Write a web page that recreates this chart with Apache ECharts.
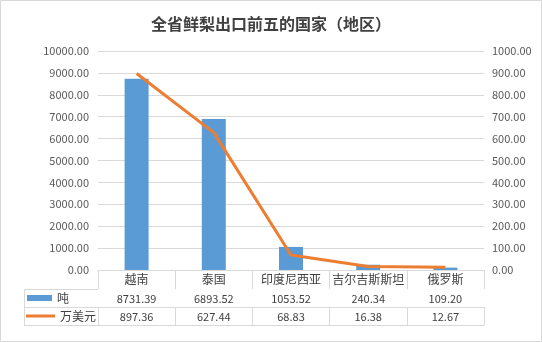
<!DOCTYPE html>
<html>
<head>
<meta charset="utf-8">
<script src="https://cdn.jsdelivr.net/npm/echarts@6/dist/echarts.min.js"></script>
<style>
html,body{margin:0;padding:0;background:#fff;}
#main{width:542px;height:342px;}
</style>
</head>
<body>
<div id="main"></div>
<script>
var categories = ['越南', '泰国', '印度尼西亚', '吉尔吉斯斯坦', '俄罗斯'];
var tons = [8731.39, 6893.52, 1053.52, 240.34, 109.20];
var usd = [897.36, 627.44, 68.83, 16.38, 12.67];
var titleText = '全省鲜梨出口前五的国家（地区）';
var seriesNames = ['吨', '万美元'];

var FONT = '"Noto Sans CJK SC", "Noto Sans", sans-serif';
var GRID = '#d9d9d9';
var TXT = '#595959';
var TXT2 = '#404040';

var chart = echarts.init(document.getElementById('main'));

function tableAxis(data, offset, showTick, tickLen, fontSize, margin) {
  return {
    type: 'category',
    gridIndex: 0,
    position: 'bottom',
    offset: offset,
    data: data,
    axisLine: { show: true, lineStyle: { color: GRID, width: 1 } },
    axisTick: { show: showTick, length: tickLen, interval: 0, lineStyle: { color: GRID } },
    axisLabel: { show: data.length > 0 && data[0] !== '', interval: 0, color: TXT2, fontSize: fontSize, fontFamily: FONT, margin: margin },
    splitLine: { show: false }
  };
}

var option = {
  backgroundColor: '#fff',
  animation: false,
  title: {
    text: titleText,
    left: 'center',
    top: 11,
    textStyle: { fontSize: 16, fontWeight: 'bold', color: TXT2, fontFamily: FONT }
  },
  legend: [
    {
      data: [{ name: seriesNames[0], icon: 'rect' }],
      left: 27, top: 292, padding: 0,
      itemWidth: 25, itemHeight: 6,
      textStyle: { fontSize: 12, color: TXT2, fontFamily: FONT }
    },
    {
      data: [{ name: seriesNames[1], icon: 'path://M0,0H29V3H0Z' }],
      left: 26, top: 310, padding: 0,
      itemWidth: 29, itemHeight: 3,
      textStyle: { fontSize: 12, color: TXT2, fontFamily: FONT }
    }
  ],
  grid: { left: 98, right: 58, top: 51, bottom: 72, containLabel: false },
  xAxis: [
    tableAxis(categories, 0, true, 19, 12, 3),
    tableAxis(tons.map(function (v) { return v.toFixed(2); }), 19, true, 18, 11, 4),
    tableAxis(usd.map(function (v) { return v.toFixed(2); }), 37, true, 18, 11, 4),
    tableAxis(categories.map(function () { return ''; }), 55, false, 0, 11, 4)
  ],
  yAxis: [
    {
      type: 'value', min: 0, max: 10000, interval: 1000,
      axisLine: { show: false }, axisTick: { show: false },
      axisLabel: { color: TXT, fontSize: 11, fontFamily: FONT, margin: 9, formatter: function (v) { return v.toFixed(2); } },
      splitLine: { lineStyle: { color: GRID, width: 1 } }
    },
    {
      type: 'value', min: 0, max: 1000, interval: 100, position: 'right',
      axisLine: { show: false }, axisTick: { show: false },
      axisLabel: { color: TXT, fontSize: 11, fontFamily: FONT, margin: 8, formatter: function (v) { return v.toFixed(2); } },
      splitLine: { show: false }
    }
  ],
  series: [
    {
      name: seriesNames[0], type: 'bar', data: tons, xAxisIndex: 0, yAxisIndex: 0,
      barWidth: 24, itemStyle: { color: '#5B9BD5' }
    },
    {
      name: seriesNames[1], type: 'line', data: usd, xAxisIndex: 0, yAxisIndex: 1,
      symbol: 'none', lineStyle: { color: '#ED7D31', width: 3 }, itemStyle: { color: '#ED7D31' }
    }
  ],
  graphic: [
    { type: 'line', shape: { x1: 24, y1: 289.5, x2: 98, y2: 289.5 }, style: { stroke: GRID, lineWidth: 1 }, silent: true },
    { type: 'line', shape: { x1: 24, y1: 307.5, x2: 98, y2: 307.5 }, style: { stroke: GRID, lineWidth: 1 }, silent: true },
    { type: 'line', shape: { x1: 24, y1: 325.5, x2: 98, y2: 325.5 }, style: { stroke: GRID, lineWidth: 1 }, silent: true },
    { type: 'line', shape: { x1: 24.5, y1: 289, x2: 24.5, y2: 326 }, style: { stroke: GRID, lineWidth: 1 }, silent: true },
    { type: 'rect', shape: { x: 0.5, y: 0.5, width: 541, height: 341 }, style: { fill: 'none', stroke: '#d9d9d9', lineWidth: 1 }, silent: true }
  ]
};
chart.setOption(option);
</script>
</body>
</html>
